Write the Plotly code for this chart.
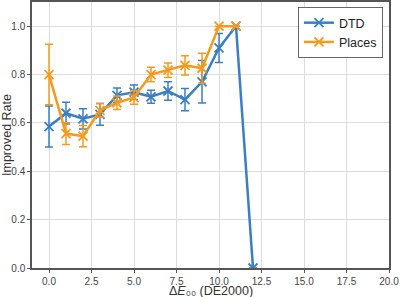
import plotly.graph_objects as go

x_dtd = [0, 1, 2, 3, 4, 5, 6, 7, 8, 9, 10, 11, 12]
y_dtd = [0.585, 0.640, 0.617, 0.635, 0.714, 0.727, 0.708, 0.732, 0.696, 0.770, 0.910, 1.0, 0.0]
e_dtd = [0.085, 0.045, 0.042, 0.045, 0.030, 0.030, 0.027, 0.038, 0.046, 0.088, 0.060, 0.0, 0.0]

x_pl = [0, 1, 2, 3, 4, 5, 6, 7, 8, 9, 10, 11]
y_pl = [0.800, 0.556, 0.545, 0.652, 0.683, 0.705, 0.800, 0.818, 0.838, 0.826, 1.0, 1.0]
e_pl = [0.125, 0.045, 0.044, 0.028, 0.028, 0.028, 0.030, 0.030, 0.040, 0.062, 0.0, 0.0]

BLUE = "#3a7fc4"
ORANGE = "#f49a1e"
FONT = "Liberation Sans, Arial, sans-serif"

fig = go.Figure()
for name, xs, ys, es, col in [("DTD", x_dtd, y_dtd, e_dtd, BLUE),
                              ("Places", x_pl, y_pl, e_pl, ORANGE)]:
    fig.add_trace(go.Scatter(
        x=xs, y=ys, name=name, mode="lines+markers",
        line=dict(color=col, width=2.5),
        marker=dict(symbol="x-thin", size=9, line=dict(color=col, width=1.8), color=col),
        error_y=dict(type="data", array=es, visible=True, color=col, thickness=1.5, width=4),
    ))

axis_common = dict(
    showline=True, mirror=True, linecolor="#555", linewidth=1.5,
    showgrid=True, gridcolor="#dcdcdc", gridwidth=1,
    zeroline=False, ticks="outside", ticklen=3, tickcolor="#555",
    tickfont=dict(family=FONT, size=10, color="#444"),
    automargin=False,
)

fig.update_xaxes(range=[-1, 20], dtick=2.5, tick0=0, tickformat=".1f", **axis_common)
fig.update_yaxes(range=[0, 1.1], dtick=0.2, tick0=0, tickformat=".1f", **axis_common)

fig.update_layout(
    width=400, height=297,
    margin=dict(l=32, r=11, t=2, b=29),
    paper_bgcolor="white", plot_bgcolor="white",
    showlegend=True,
    legend=dict(x=0.983, y=0.981, xanchor="right", yanchor="top",
                bgcolor="white", bordercolor="#666", borderwidth=1,
                font=dict(family=FONT, size=12.5, color="#222"),
                tracegroupgap=0),
    annotations=[
        dict(text="Δ<i>E</i>₀₀ (DE2000)", xref="paper", yref="paper",
             x=0.5, y=0, yshift=-15, xanchor="center", yanchor="top", borderpad=0,
             showarrow=False, font=dict(family=FONT, size=12.5, color="#333")),
        dict(text="Improved Rate", xref="paper", yref="paper",
             x=0, y=0.5, xshift=-25, xanchor="center", yanchor="middle", textangle=-90,
             borderpad=0, showarrow=False, font=dict(family=FONT, size=12.5, color="#333")),
    ],
)

fig.write_html("out.html", config={"displayModeBar": False},
               post_script="document.body.style.margin='0';document.body.style.overflow='hidden';")
